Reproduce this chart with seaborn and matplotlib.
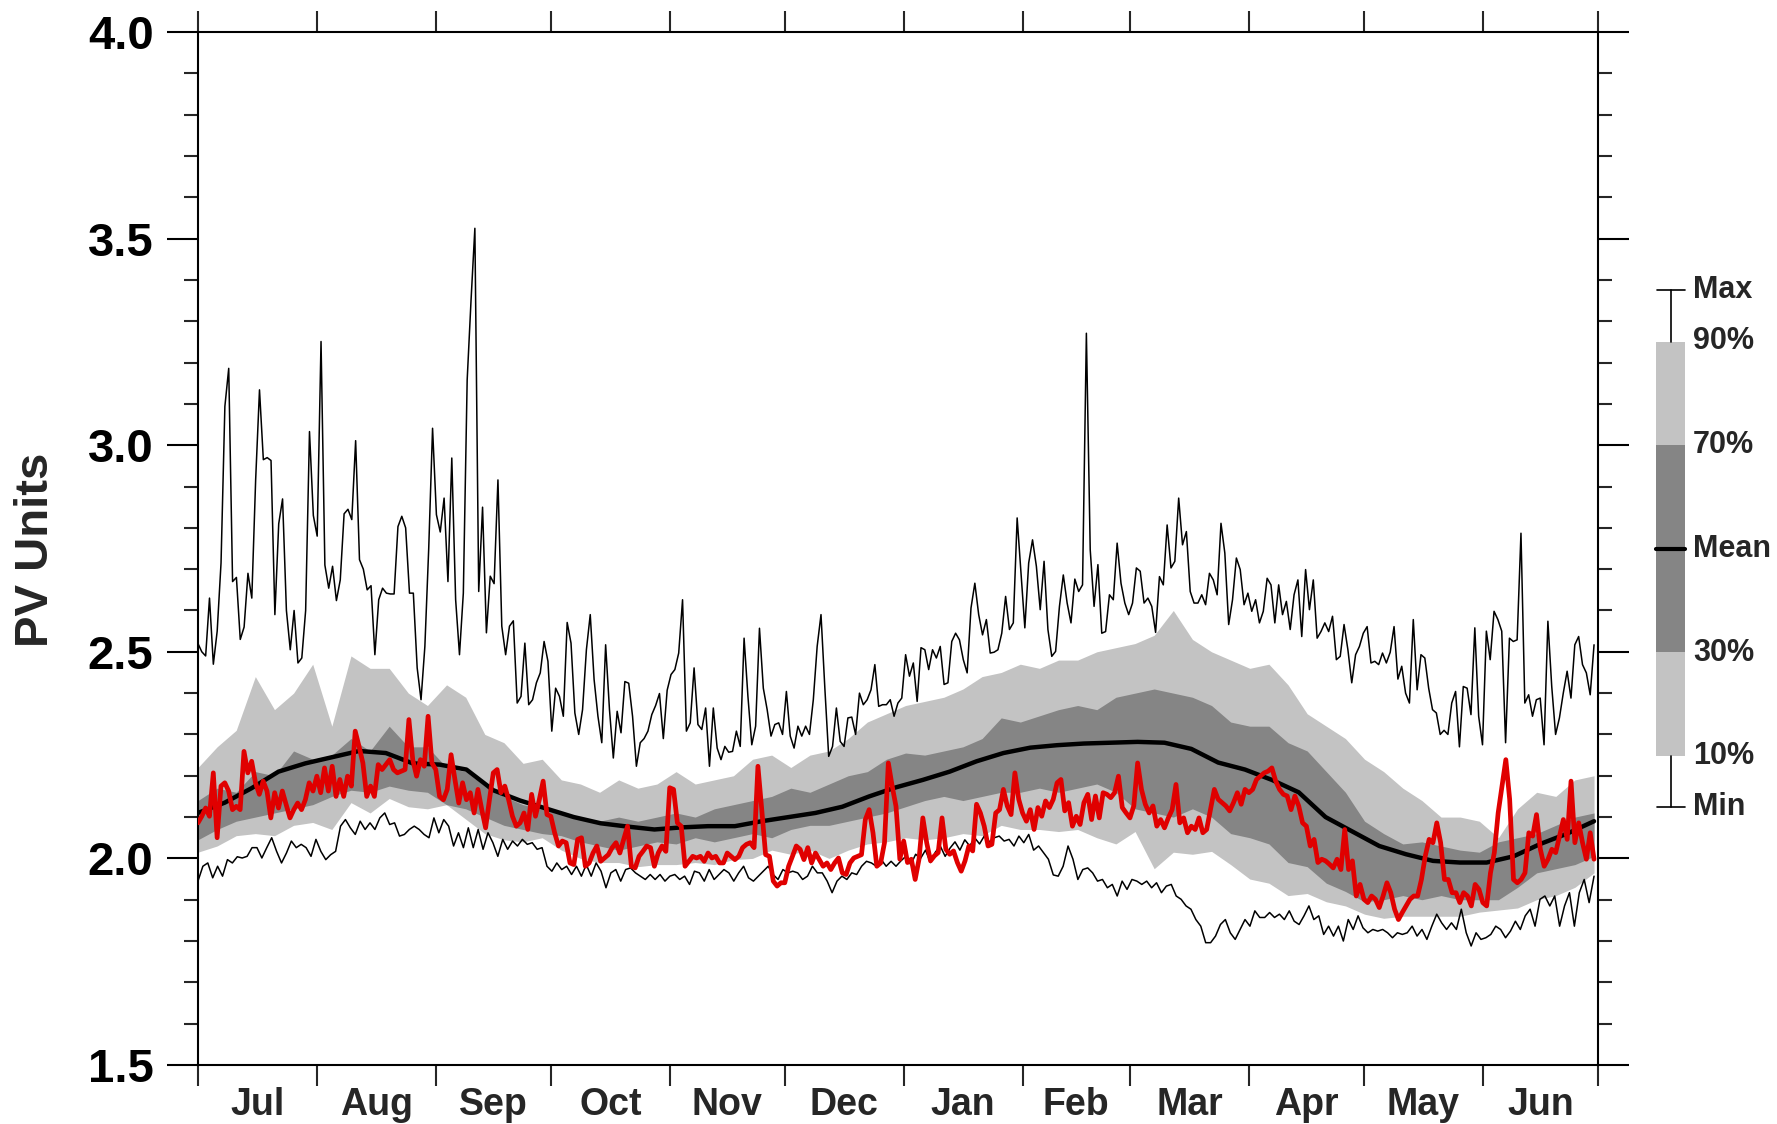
import numpy as np
import matplotlib
matplotlib.use('Agg')
import matplotlib.pyplot as plt
import seaborn as sns
from matplotlib.patches import Rectangle
from matplotlib.ticker import MultipleLocator, FormatStrFormatter

# month layout of the Jul-Jun year (day of year from 1 July)
month_names = ['Jul', 'Aug', 'Sep', 'Oct', 'Nov', 'Dec', 'Jan', 'Feb', 'Mar', 'Apr', 'May', 'Jun']
month_edges = [0, 31, 62, 92, 123, 153, 184, 215, 243, 274, 304, 335, 365]

# daily maximum
pv_max = [2.52, 2.50, 2.49, 2.63, 2.47, 2.55, 2.715, 3.094, 3.186, 2.67, 2.68, 2.53, 2.56, 2.69, 2.63, 2.916,
          3.134, 2.965, 2.97, 2.963, 2.59, 2.81, 2.87, 2.60, 2.505, 2.60, 2.473, 2.485, 2.60, 3.033, 2.83, 2.78,
          3.251, 2.71, 2.654, 2.707, 2.624, 2.674, 2.834, 2.845, 2.82, 3.011, 2.723, 2.70, 2.65, 2.66, 2.493,
          2.626, 2.654, 2.642, 2.64, 2.64, 2.803, 2.828, 2.80, 2.642, 2.642, 2.461, 2.384, 2.513, 2.75, 3.041,
          2.832, 2.79, 2.872, 2.67, 2.969, 2.626, 2.493, 2.642, 3.158, 3.35, 3.525, 2.646, 2.85, 2.546, 2.683,
          2.665, 2.916, 2.562, 2.493, 2.562, 2.575, 2.376, 2.392, 2.521, 2.372, 2.384, 2.425, 2.449, 2.525, 2.477,
          2.308, 2.412, 2.392, 2.344, 2.571, 2.521, 2.352, 2.30, 2.36, 2.505, 2.59, 2.433, 2.344, 2.28, 2.517,
          2.36, 2.243, 2.356, 2.304, 2.428, 2.424, 2.344, 2.223, 2.28, 2.29, 2.308, 2.348, 2.37, 2.399, 2.29,
          2.407, 2.445, 2.457, 2.497, 2.626, 2.308, 2.328, 2.461, 2.324, 2.312, 2.364, 2.223, 2.364, 2.267,
          2.239, 2.271, 2.257, 2.259, 2.308, 2.271, 2.533, 2.392, 2.275, 2.32, 2.557, 2.412, 2.36, 2.296, 2.324,
          2.328, 2.30, 2.404, 2.296, 2.267, 2.32, 2.296, 2.32, 2.30, 2.384, 2.513, 2.59, 2.412, 2.247, 2.271,
          2.364, 2.283, 2.271, 2.34, 2.342, 2.30, 2.40, 2.372, 2.384, 2.408, 2.469, 2.368, 2.372, 2.372, 2.384,
          2.344, 2.376,
          2.388, 2.493, 2.441, 2.473, 2.38, 2.51, 2.505, 2.457, 2.505, 2.485, 2.513, 2.421, 2.425, 2.525, 2.545,
          2.529, 2.481, 2.449, 2.606, 2.666, 2.59, 2.541, 2.578, 2.497, 2.499, 2.505, 2.545, 2.634, 2.554, 2.57,
          2.824, 2.69, 2.558, 2.715, 2.771, 2.707, 2.602, 2.719, 2.554, 2.489, 2.501, 2.61, 2.686, 2.618, 2.57,
          2.676, 2.646, 2.662, 3.271, 2.747, 2.61, 2.711, 2.545, 2.549, 2.638, 2.626, 2.763, 2.666, 2.618, 2.59,
          2.618, 2.703, 2.695, 2.618, 2.63, 2.61, 2.547, 2.682, 2.662, 2.807, 2.703, 2.719, 2.872, 2.759, 2.791,
          2.646, 2.618, 2.618, 2.638, 2.614, 2.69, 2.674, 2.638, 2.811, 2.739, 2.566, 2.626, 2.727, 2.699, 2.614,
          2.642, 2.598, 2.626, 2.57, 2.598, 2.678, 2.662, 2.57, 2.662, 2.59, 2.622, 2.554, 2.638, 2.674, 2.537,
          2.699, 2.602, 2.674, 2.533, 2.549, 2.57, 2.549, 2.586, 2.481, 2.489, 2.566, 2.505, 2.425, 2.493, 2.513,
          2.545, 2.561, 2.473, 2.477, 2.469, 2.497, 2.473, 2.499, 2.561, 2.434, 2.465, 2.40, 2.376, 2.578, 2.408,
          2.493, 2.485, 2.412, 2.36, 2.352, 2.30, 2.31, 2.30, 2.376, 2.404, 2.27, 2.416, 2.412, 2.348, 2.558,
          2.344, 2.275, 2.55, 2.481, 2.598, 2.578, 2.55, 2.28, 2.533, 2.525, 2.529, 2.787, 2.376, 2.396, 2.344,
          2.384, 2.388, 2.275, 2.574, 2.416, 2.30, 2.34, 2.40, 2.453, 2.388, 2.517, 2.537, 2.469, 2.449, 2.396,
          2.517]

# minimum (about every 1.3 days)
pv_min = [1.945, 1.981, 1.989, 1.953, 1.981, 1.957, 1.997, 1.989, 2.004, 2.001,
          2.005, 2.026, 2.026, 2.001, 2.026, 2.05, 2.017, 1.989, 2.013, 2.042,
          2.026, 2.034, 2.026, 2.005, 2.046, 2.017, 1.997, 2.009, 2.017, 2.078,
          2.094, 2.074, 2.058, 2.09, 2.07, 2.086, 2.07, 2.098, 2.11, 2.082,
          2.086, 2.054, 2.058, 2.07, 2.078, 2.07, 2.058, 2.05, 2.098, 2.062,
          2.094, 2.078, 2.03, 2.062, 2.026, 2.074, 2.026, 2.07, 2.022, 2.062,
          2.038, 2.005, 2.046, 2.022, 2.042, 2.03, 2.046, 2.034, 2.038, 2.022,
          2.026, 1.981, 1.969, 1.989, 1.973, 1.981, 1.961, 1.981, 1.957, 1.985,
          1.957, 1.989, 1.969, 1.929, 1.965, 1.973, 1.945, 1.973, 1.977, 1.965,
          1.957, 1.949, 1.961, 1.949, 1.961, 1.945, 1.957, 1.961, 1.949, 1.957,
          1.937, 1.969, 1.965, 1.945, 1.973, 1.949, 1.961, 1.973, 1.965, 1.945,
          1.965, 1.981, 1.953, 1.945, 1.957, 1.969, 1.981, 1.961, 1.949, 1.973,
          1.965, 1.969, 1.965, 1.949, 1.957, 1.981, 1.965, 1.965, 1.945, 1.917,
          1.945, 1.957, 1.949, 1.965, 1.961, 1.981, 1.993, 1.989, 1.981, 1.997,
          1.981, 1.993, 1.981,
          1.994, 2.005, 1.985, 2.01, 2.0, 2.02, 1.99, 2.015, 2.03, 2.005,
          2.025, 2.04, 2.02, 2.045, 2.03, 2.05, 2.035, 2.055, 2.04, 2.05,
          2.054, 2.042, 2.046, 2.03, 2.054, 2.038, 2.058, 2.02, 2.03, 2.014,
          1.998, 1.96, 1.957, 1.981, 2.03, 1.998, 1.949, 1.973, 1.977, 1.965,
          1.945, 1.949, 1.929, 1.937, 1.909, 1.945, 1.925, 1.949, 1.945, 1.937,
          1.945, 1.929, 1.941, 1.917, 1.933, 1.937, 1.909, 1.901, 1.885, 1.877,
          1.852, 1.836, 1.796, 1.796, 1.812, 1.84, 1.852, 1.82, 1.804, 1.828,
          1.852, 1.836, 1.873, 1.857, 1.857, 1.869, 1.857, 1.865, 1.852, 1.873,
          1.848, 1.84, 1.861, 1.885, 1.852, 1.861, 1.816, 1.836, 1.812, 1.836,
          1.80, 1.852, 1.828, 1.861, 1.832, 1.82, 1.828, 1.824, 1.828, 1.82,
          1.808, 1.82, 1.816, 1.82, 1.836, 1.812, 1.828, 1.804, 1.836, 1.865,
          1.844, 1.828, 1.844, 1.828, 1.877, 1.82, 1.788, 1.82, 1.804, 1.808,
          1.816, 1.836, 1.828, 1.808, 1.824, 1.848, 1.828, 1.861, 1.877, 1.836,
          1.901, 1.909, 1.885, 1.909, 1.836, 1.885, 1.917, 1.836, 1.917, 1.949,
          1.893, 1.957]

# observed season (daily)
pv_obs = [2.086, 2.102, 2.122, 2.102, 2.207, 2.05, 2.175, 2.183, 2.163, 2.118,
          2.126, 2.118, 2.259, 2.207, 2.235, 2.183, 2.155, 2.187, 2.163, 2.098,
          2.159, 2.122, 2.163, 2.13, 2.098, 2.118, 2.134, 2.118, 2.142, 2.183,
          2.163, 2.199, 2.159, 2.219, 2.163, 2.223, 2.15, 2.191, 2.15, 2.199,
          2.175, 2.308, 2.271, 2.231, 2.15, 2.175, 2.15, 2.227, 2.215, 2.227,
          2.239, 2.215, 2.207, 2.211, 2.215, 2.336, 2.239, 2.199, 2.239, 2.223,
          2.344, 2.231, 2.215, 2.15, 2.142, 2.167, 2.251, 2.191, 2.134, 2.183,
          2.142, 2.159, 2.11, 2.167, 2.118, 2.074, 2.142, 2.207, 2.215, 2.159,
          2.175, 2.142, 2.102, 2.078, 2.086, 2.11, 2.07, 2.155, 2.102, 2.142,
          2.187, 2.106, 2.102, 2.062, 2.03, 2.042, 2.038, 1.989, 1.985,
          2.046, 2.05, 1.981, 1.989, 2.013, 2.03, 1.993, 2.001, 2.009,
          2.026, 2.038, 2.013, 2.046, 2.078, 1.981, 1.977, 2.005, 2.017, 2.03,
          2.026, 1.981, 2.013, 2.03, 2.017, 2.171, 2.167, 2.086, 2.078, 1.981,
          1.993, 2.005, 2.001, 2.005, 1.993, 2.013, 2.001, 2.005, 1.989, 1.989,
          2.013, 2.005, 1.997, 2.005, 2.026, 2.034, 2.038, 2.026, 2.223, 2.118,
          2.009, 2.005, 1.945, 1.933, 1.941, 1.941, 1.981, 2.005, 2.03, 2.022,
          1.997, 2.026, 1.989, 2.013, 1.997, 1.981, 1.989, 1.973, 1.989, 2.001,
          1.965, 1.961, 1.989, 2.001, 2.005, 2.009, 2.094, 2.118, 2.062, 1.981,
          1.989, 2.038, 2.231, 2.175, 2.126,
          1.998, 2.042, 1.99, 1.998, 1.949, 1.998, 2.098, 2.038, 1.994,
          2.006, 2.014, 2.098, 2.022, 2.01, 2.018, 1.99, 1.969, 1.994, 2.03,
          2.018, 2.131, 2.11, 2.078, 2.03, 2.034, 2.11, 2.118, 2.167, 2.127,
          2.106, 2.207, 2.143, 2.11, 2.09, 2.118, 2.07, 2.123, 2.102,
          2.139, 2.123, 2.143, 2.183, 2.191, 2.115, 2.135, 2.078, 2.102, 2.082,
          2.135, 2.155, 2.094, 2.151, 2.098, 2.159, 2.155, 2.147, 2.159,
          2.199, 2.123, 2.11, 2.098, 2.127, 2.231, 2.167, 2.131, 2.11, 2.127,
          2.078, 2.094, 2.074, 2.098, 2.118, 2.179, 2.086, 2.098, 2.062, 2.078,
          2.07, 2.098, 2.062, 2.07, 2.118, 2.167, 2.143, 2.135, 2.127,
          2.115, 2.135, 2.159, 2.131, 2.167, 2.159, 2.167, 2.191, 2.199,
          2.207, 2.211, 2.219, 2.187, 2.167, 2.155, 2.151, 2.118,
          2.151, 2.127, 2.086, 2.078, 2.03, 2.046, 1.99, 1.998, 1.994, 1.986,
          1.977, 1.998, 1.973, 2.07, 1.973, 1.994, 1.909, 1.937, 1.901, 1.893,
          1.909, 1.901, 1.881, 1.909, 1.941, 1.917, 1.877, 1.852, 1.869, 1.885,
          1.901, 1.909, 1.909, 1.949, 2.006, 2.046, 2.038, 2.086, 2.038, 1.949,
          1.949, 1.917, 1.917, 1.893, 1.917, 1.909, 1.885, 1.937, 1.925, 1.893,
          1.885, 1.965, 2.014, 2.11, 2.175, 2.239, 2.143, 1.949, 1.941, 1.949,
          1.965, 2.062, 2.054, 2.106, 2.022, 1.981, 1.998, 2.022, 2.014, 2.054,
          2.094, 2.046, 2.187, 2.038, 2.086, 2.038, 1.998, 2.062, 1.998]

# climatological mean (weekly)
pv_mean = [2.11, 2.135, 2.17, 2.21, 2.23, 2.245, 2.26, 2.255, 2.23, 2.227,
           2.215, 2.165, 2.14, 2.12, 2.10, 2.085, 2.077, 2.07, 2.075, 2.078,
           2.078, 2.09, 2.10, 2.11, 2.125, 2.15, 2.172, 2.19, 2.21, 2.235,
           2.255, 2.268, 2.274, 2.278, 2.28, 2.282, 2.28, 2.265, 2.232, 2.215,
           2.19, 2.16, 2.10, 2.065, 2.03, 2.01, 1.994, 1.99, 1.99, 2.005,
           2.035, 2.06, 2.09]

# percentiles (every 5 days)
p90 = [2.22, 2.27, 2.31, 2.44, 2.36, 2.40, 2.47, 2.32, 2.49, 2.46,
       2.46, 2.40, 2.37, 2.42, 2.39, 2.30, 2.28, 2.23, 2.24, 2.19,
       2.18, 2.16, 2.19, 2.17, 2.18, 2.21, 2.18, 2.19, 2.20, 2.24,
       2.25, 2.22, 2.25, 2.26, 2.29, 2.33, 2.35, 2.37, 2.38, 2.39,
       2.41, 2.44, 2.45, 2.47, 2.46, 2.48, 2.48, 2.50, 2.51, 2.52,
       2.54, 2.60, 2.53, 2.50, 2.48, 2.46, 2.47, 2.42, 2.35, 2.32,
       2.29, 2.24, 2.21, 2.17, 2.14, 2.10, 2.10, 2.09, 2.05, 2.12,
       2.16, 2.15, 2.19, 2.20]
p70 = [2.14, 2.17, 2.16, 2.21, 2.20, 2.26, 2.24, 2.25, 2.29, 2.26,
       2.32, 2.27, 2.27, 2.22, 2.21, 2.175, 2.15, 2.13, 2.12, 2.11,
       2.10, 2.09, 2.10, 2.09, 2.10, 2.11, 2.10, 2.12, 2.13, 2.14,
       2.15, 2.17, 2.16, 2.18, 2.20, 2.21, 2.24, 2.255, 2.25, 2.26,
       2.27, 2.29, 2.34, 2.33, 2.345, 2.36, 2.37, 2.36, 2.39, 2.40,
       2.41, 2.40, 2.39, 2.37, 2.33, 2.32, 2.32, 2.28, 2.26, 2.21,
       2.16, 2.09, 2.06, 2.035, 2.04, 2.03, 2.02, 2.015, 2.04, 2.05,
       2.06, 2.08, 2.10, 2.11]
p30 = [2.045, 2.07, 2.09, 2.10, 2.11, 2.12, 2.13, 2.15, 2.165, 2.16,
       2.175, 2.165, 2.16, 2.13, 2.12, 2.10, 2.08, 2.07, 2.06, 2.055,
       2.04, 2.03, 2.02, 2.03, 2.04, 2.035, 2.05, 2.04, 2.05, 2.06,
       2.05, 2.07, 2.08, 2.08, 2.09, 2.10, 2.11, 2.125, 2.14, 2.15,
       2.14, 2.15, 2.16, 2.16, 2.17, 2.16, 2.17, 2.18, 2.16, 2.12,
       2.11, 2.10, 2.12, 2.10, 2.06, 2.05, 2.035, 1.99, 1.98, 1.94,
       1.92, 1.895, 1.90, 1.91, 1.90, 1.91, 1.90, 1.90, 1.90, 1.93,
       1.965, 1.975, 1.985, 2.005]
p10 = [2.015, 2.03, 2.055, 2.06, 2.055, 2.08, 2.087, 2.07, 2.135, 2.11,
       2.145, 2.125, 2.12, 2.13, 2.095, 2.06, 2.045, 2.04, 2.05, 2.02,
       2.00, 1.99, 1.99, 1.98, 1.985, 1.985, 1.99, 1.985, 1.997, 2.00,
       2.02, 2.01, 2.02, 2.00, 2.02, 2.035, 2.04, 2.05, 2.045, 2.05,
       2.06, 2.055, 2.08, 2.07, 2.07, 2.065, 2.07, 2.05, 2.035, 2.065,
       1.975, 2.015, 2.01, 2.017, 1.985, 1.95, 1.94, 1.91, 1.915, 1.895,
       1.885, 1.865, 1.855, 1.86, 1.86, 1.86, 1.86, 1.87, 1.875, 1.88,
       1.90, 1.91, 1.93, 1.965]

legend_labels = ['Max', '90%', '70%', 'Mean', '30%', '10%', 'Min']

light = '#c3c3c3'
dark = '#858585'
red = '#e00000'

sns.set_style('ticks')
plt.rcParams['font.family'] = ['Liberation Sans', 'DejaVu Sans']
plt.rcParams['font.weight'] = 'bold'

fig = plt.figure(figsize=(17.77, 11.24), dpi=100)
ax = fig.add_axes([0.1114, 0.0525, 0.7878, 0.919])

band_days = np.linspace(0, 364, len(p90))
ax.fill_between(band_days, p10, p90, color=light, lw=0, zorder=1)
ax.fill_between(band_days, p30, p70, color=dark, lw=0, zorder=2)

sns.lineplot(x=np.linspace(0, 364, len(pv_max)), y=pv_max, ax=ax, color='black', lw=1.1, zorder=3)
sns.lineplot(x=np.linspace(0, 364, len(pv_min)), y=pv_min, ax=ax, color='black', lw=1.1, zorder=3)
sns.lineplot(x=np.linspace(0, 364, len(pv_mean)), y=pv_mean, ax=ax, color='black', lw=3.2, zorder=4)
sns.lineplot(x=np.linspace(0, 364, len(pv_obs)), y=pv_obs, ax=ax, color=red, lw=3.4, zorder=5)

ax.set_xlim(0, 365)
ax.set_ylim(1.5, 4.0)

for s in ax.spines.values():
    s.set_visible(True)
    s.set_linewidth(1.5)
    s.set_color('black')

ax.yaxis.set_major_locator(MultipleLocator(0.5))
ax.yaxis.set_minor_locator(MultipleLocator(0.1))
ax.yaxis.set_major_formatter(FormatStrFormatter('%.1f'))
ax.tick_params(axis='y', which='major', direction='out', length=22, width=1.5,
               labelsize=34, pad=10, left=True, right=True, colors='black')
ax.tick_params(axis='y', which='minor', direction='out', length=10, width=1.5,
               left=True, right=True)

mids = [(a + b) / 2 for a, b in zip(month_edges[:-1], month_edges[1:])]
ax.set_xticks(month_edges)
ax.set_xticklabels([])
ax.set_xticks(mids, minor=True)
ax.set_xticklabels(month_names, minor=True)
ax.tick_params(axis='x', which='major', direction='out', length=15, width=1.5,
               top=True, bottom=True, labelbottom=False)
ax.tick_params(axis='x', which='minor', length=0, pad=16, labelsize=27,
               top=False, bottom=True)
for t in ax.get_xticklabels(minor=True) + ax.get_yticklabels():
    t.set_fontweight('bold')
ax.set_xlabel('')
ax.set_ylabel('')

fig.text(0.0203, 0.511, 'PV Units', rotation=90, ha='center', va='center',
         fontsize=34, fontweight='bold')

# legend key drawn in figure pixels
lax = fig.add_axes([0, 0, 1, 1])
lax.set_xlim(0, 1777)
lax.set_ylim(1124, 0)
lax.axis('off')
lax.add_patch(Rectangle((1656, 342), 29, 103, color=light, lw=0))
lax.add_patch(Rectangle((1656, 445), 29, 207, color=dark, lw=0))
lax.add_patch(Rectangle((1656, 652), 29, 104, color=light, lw=0))
lax.plot([1671, 1671], [290, 342], color='black', lw=1.2)
lax.plot([1671, 1671], [756, 807], color='black', lw=1.2)
lax.plot([1657, 1685], [290, 290], color='black', lw=1.2)
lax.plot([1657, 1685], [807, 807], color='black', lw=1.2)
lax.plot([1656, 1685], [549, 549], color='black', lw=3)
for lab, yy in zip(legend_labels, [290, 341, 445, 549, 653, 756, 807]):
    lax.text(1693, yy, lab, ha='left', va='center', fontsize=22, fontweight='bold')

fig.savefig('out.png', dpi=100)
